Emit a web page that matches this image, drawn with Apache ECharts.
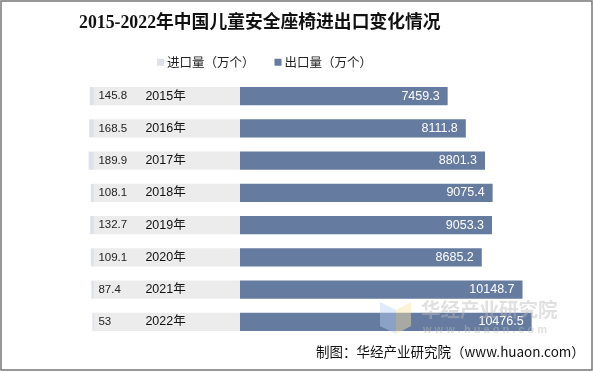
<!DOCTYPE html>
<html><head><meta charset="utf-8">
<script src="https://cdn.jsdelivr.net/npm/echarts@6/dist/echarts.min.js"></script>
<style>html,body{margin:0;padding:0;background:#fff}#c{width:593px;height:372px}</style>
</head><body><div id="c"></div>
<script>
const years = ['2015年','2016年','2017年','2018年','2019年','2020年','2021年','2022年'];
const importVals = [145.8, 168.5, 189.9, 108.1, 132.7, 109.1, 87.4, 53];
const exportVals = [7459.3, 8111.8, 8801.3, 9075.4, 9053.3, 8685.2, 10148.7, 10476.5];
const spacerVals = [-5250, -5250, -5250, -5250, -5250, -5250, -5250, -5250];

const chart = echarts.init(document.getElementById('c'));
chart.setOption({
  backgroundColor: '#fff',
  animation: false,
  title: {
    text: '2015-2022年中国儿童安全座椅进出口变化情况',
    left: 79, top: 15, padding: 0,
    textStyle: { fontFamily: '"Liberation Serif","Noto Sans CJK SC",serif', fontWeight: 'bold', fontSize: 17.8, color: '#111' }
  },
  legend: {
    data: ['进口量（万个）', '出口量（万个）'],
    left: 157, top: 56, padding: 0,
    icon: 'rect', itemWidth: 7, itemHeight: 7, itemGap: 20,
    textStyle: { fontFamily: '"Noto Sans CJK SC",sans-serif', fontSize: 12.5, color: '#222', padding: [0,0,0,-2] }
  },
  grid: { left: 72.96, width: 501.1, top: 80, height: 258 },
  xAxis: { type: 'value', min: -6000, max: 12000, show: false },
  yAxis: { type: 'category', data: years, inverse: true, show: false },
  series: [
    {
      name: 'spacer', type: 'bar', stack: 'a', data: spacerVals,
      barCategoryGap: '44%',
      itemStyle: { color: '#ececec' },
      label: {
        show: true, position: 'inside', offset: [2, 0],
        formatter: p => '{a|' + importVals[p.dataIndex] + '}{b|' + years[p.dataIndex] + '}',
        rich: {
          a: { width: 47, align: 'left', fontFamily: 'Arial,"Liberation Sans",sans-serif', fontSize: 11.5, color: '#222' },
          b: { width: 94, align: 'left', fontFamily: 'Arial,"Liberation Sans","Noto Sans CJK SC",sans-serif', fontSize: 12.5, color: '#111' }
        }
      }
    },
    {
      name: '进口量（万个）', type: 'bar', stack: 'a',
      data: importVals.map(v => -v),
      itemStyle: { color: '#dce1ea' }
    },
    {
      name: '出口量（万个）', type: 'bar', stack: 'a', data: exportVals,
      itemStyle: { color: '#667ba0' },
      label: {
        show: true, position: 'insideRight', distance: 8,
        fontFamily: 'Arial,"Liberation Sans",sans-serif', fontSize: 12.5, color: '#fff'
      }
    }
  ],
  graphic: [
    { type: 'rect', shape: { x: 1, y: 1, width: 591, height: 369 }, style: { fill: 'none', stroke: '#777', lineWidth: 1.5 }, silent: true },
    { type: 'polygon', shape: { points: [[380,302],[396,310],[396,334],[380,326]] }, style: { fill: '#b9d3f5', opacity: 0.45 }, z: 100 },
    { type: 'polygon', shape: { points: [[396,310],[411,302],[411,326],[396,334]] }, style: { fill: '#f6e3a6', opacity: 0.45 }, z: 100 },
    { type: 'text', left: 421, top: 300, style: { text: '华经产业研究院', fontFamily: '"Noto Sans CJK SC",sans-serif', fontWeight: 'bold', fontSize: 19.5, fill: '#bbb', opacity: 0.45 }, z: 100 },
    { type: 'text', left: 423, top: 324, style: { text: 'w w w . h u a o n . c o m', fontFamily: 'Arial,sans-serif', fontWeight: 'bold', fontSize: 11, fill: '#bbb', opacity: 0.45 }, z: 100 },
    { type: 'text', left: 316, top: 345, style: { text: '制图：华经产业研究院（www.huaon.com）', fontFamily: '"Noto Sans CJK SC",sans-serif', fontSize: 13.5, fill: '#111' } }
  ]
});
</script></body></html>
